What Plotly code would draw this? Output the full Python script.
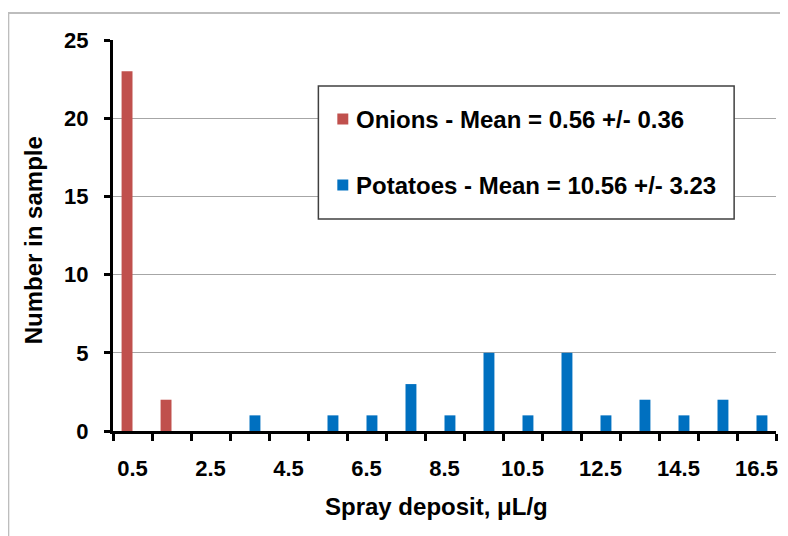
import plotly.graph_objects as go

# ---- data ----
bins = [0.5, 1.5, 2.5, 3.5, 4.5, 5.5, 6.5, 7.5, 8.5, 9.5, 10.5, 11.5, 12.5, 13.5, 14.5, 15.5, 16.5]
onions = [23, 2, 0, 0, 0, 0, 0, 0, 0, 0, 0, 0, 0, 0, 0, 0, 0]
potatoes = [0, 0, 0, 1, 0, 1, 1, 3, 1, 5, 1, 5, 1, 2, 1, 2, 1]
tick_labels = ["0.5", "2.5", "4.5", "6.5", "8.5", "10.5", "12.5", "14.5", "16.5"]
tick_positions = [0.5, 2.5, 4.5, 6.5, 8.5, 10.5, 12.5, 14.5, 16.5]
series_names = ["Onions", "Potatoes"]
means = ["0.56", "10.56"]
sds = ["0.36", "3.23"]
colors = ["#C0504D", "#0070C0"]

FONT = "Liberation Sans, Arial, sans-serif"
OFF = 8  # page body margin
W, H = 788 - OFF, 536 - OFF
# plot area in screen pixels: x 113..778, y 40..431
L, T = 113 - OFF, 40 - OFF
R = W - (778 - OFF)
B = H - (431 - OFF)
PW, PH = W - L - R, H - T - B


def px(x):
    return (x - OFF - L) / PW


def py(y):
    return (H - B - (y - OFF)) / PH


fig = go.Figure()
fig.add_trace(go.Bar(x=bins, y=onions, name=series_names[0], marker_color=colors[0],
                     marker_line_width=0, showlegend=False))
fig.add_trace(go.Bar(x=bins, y=potatoes, name=series_names[1], marker_color=colors[1],
                     marker_line_width=0, showlegend=False))

shapes = []
# outer chart border (partially cropped)
shapes.append(dict(type="rect", xref="paper", yref="paper",
                   x0=px(8), x1=px(800), y0=py(560), y1=py(13),
                   line=dict(color="#BDBDBD", width=2), fillcolor="rgba(0,0,0,0)",
                   layer="below"))
# legend box
shapes.append(dict(type="rect", xref="paper", yref="paper",
                   x0=px(319), x1=px(736), y0=py(219), y1=py(86),
                   line=dict(color="#404040", width=1.5), fillcolor="white", layer="above"))

annotations = []
legend_y = [119, 185]
for i in range(2):
    cy = legend_y[i]
    shapes.append(dict(type="rect", xref="paper", yref="paper",
                       x0=px(338), x1=px(349), y0=py(cy + 5.5), y1=py(cy - 5.5),
                       line=dict(width=0), fillcolor=colors[i], layer="above"))
    annotations.append(dict(xref="paper", yref="paper", x=px(355), y=py(cy),
                            xanchor="left", yanchor="middle", showarrow=False,
                            text=f"{series_names[i]} - Mean = {means[i]} +/- {sds[i]}",
                            font=dict(family=FONT, size=24, color="black", weight="bold")))

annotations.append(dict(xref="paper", yref="paper", x=px(437), y=py(506),
                        xanchor="center", yanchor="middle", showarrow=False,
                        text="Spray deposit, μL/g",
                        font=dict(family=FONT, size=24, color="black", weight="bold")))
annotations.append(dict(xref="paper", yref="paper", x=px(34), y=py(240),
                        xanchor="center", yanchor="middle", showarrow=False, textangle=-90,
                        text="Number in sample",
                        font=dict(family=FONT, size=24, color="black", weight="bold")))

fig.update_layout(
    width=W, height=H,
    margin=dict(l=L, r=R, t=T, b=B, pad=0),
    paper_bgcolor="white", plot_bgcolor="white",
    barmode="group", bargap=0.44, bargroupgap=0,
    shapes=shapes, annotations=annotations,
    showlegend=False,
    xaxis=dict(type="linear", range=[0, 17], tickmode="array", tickvals=tick_positions,
               ticktext=tick_labels, ticks="", showgrid=False, zeroline=False,
               showline=True, linecolor="black", linewidth=3,
               ticklabelstandoff=16,
               tickfont=dict(family=FONT, size=22, color="black", weight="bold"),
               minor=dict(ticks="outside", ticklen=7, tickwidth=3, tickcolor="black",
                          tickmode="linear", tick0=0, dtick=1, showgrid=False)),
    yaxis=dict(range=[0, 25], tickmode="linear", tick0=0, dtick=5, ticks="outside",
               ticklen=6, tickwidth=3, tickcolor="black", showline=True, linecolor="black",
               linewidth=3, showgrid=True, gridcolor="#A6A6A6", gridwidth=1, zeroline=False,
               ticklabelstandoff=11,
               tickfont=dict(family=FONT, size=22, color="black", weight="bold")),
)

fig.write_html("out.html")
